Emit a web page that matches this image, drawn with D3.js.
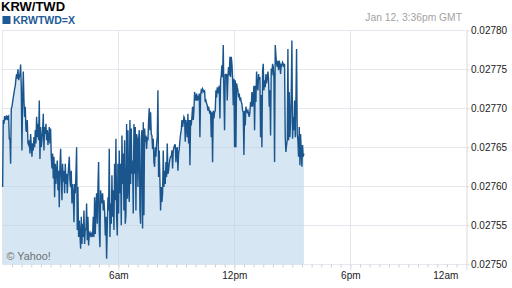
<!DOCTYPE html>
<html>
<head>
<meta charset="utf-8">
<script src="https://cdn.jsdelivr.net/npm/d3@7"></script>
<style>
body { margin: 0; background: #fff; }
svg { display: block; font-family: Arial, "Liberation Sans", sans-serif; }
</style>
</head>
<body>
<div id="chart"></div>
<script>
var title = "KRW/TWD";
var symbol = "KRWTWD=X";
var stamp = "Jan 12, 3:36pm GMT";
var credit = "\u00a9 Yahoo!";

var yTicks = [0.02750, 0.02755, 0.02760, 0.02765, 0.02770, 0.02775, 0.02780];
var xMajorMinutes = [360, 720, 1080, 1440];
var xTickLabels = ["6am", "12pm", "6pm", "12am"];

// first and last quote of the day, minutes after midnight
var firstMinute = 1, lastMinute = 936;

// quotes, in order (about one every 2 minutes)
var ratesNight = [
  0.027599,0.027685,0.027680,0.027690,0.027685,0.027688,0.027691,0.027685,0.027689,0.027690,
  0.027661,0.027661,0.027629,0.027700,0.027702,0.027708,0.027714,0.027719,0.027725,0.027729,
  0.027738,0.027744,0.027738,0.027750,0.027736,0.027740,0.027744,0.027756,0.027727,0.027646,
  0.027712,0.027747,0.027710,0.027689,0.027702,0.027672,0.027670,0.027685,0.027655,0.027653,
  0.027659,0.027642,0.027667,0.027653,0.027638,0.027655,0.027646,0.027663,0.027650,0.027672,
  0.027655,0.027689,0.027663,0.027680,0.027659,0.027710,0.027635,0.027676,0.027650,0.027659,
  0.027672,0.027693,0.027646,0.027676,0.027667,0.027680,0.027659,0.027672,0.027653,0.027663,
  0.027676,0.027655,0.027674,0.027638,0.027623,0.027642,0.027610,0.027638,0.027586,0.027629,
  0.027603,0.027620,0.027633,0.027595,0.027620,0.027573,0.027625,0.027648,0.027612,0.027582,
  0.027629,0.027606,0.027620,0.027591,0.027629,0.027603,0.027616,0.027591,0.027612,0.027625,
  0.027638,0.027608,0.027599,0.027620,0.027578,0.027603,0.027591,0.027554,0.027603,0.027591,
  0.027616,0.027650,0.027544,0.027599,0.027535,0.027556,0.027539,0.027520,0.027561,0.027526,
  0.027552,0.027535,0.027569,0.027526,0.027546,0.027544,0.027578,0.027531,0.027561,0.027524,
  0.027539,0.027541,0.027537,0.027539,0.027535,0.027538,0.027561,0.027535,0.027586,0.027539,
  0.027573,0.027591,0.027552,0.027599,0.027631,0.027544,0.027522,0.027595,0.027586,0.027578,
  0.027591,0.027569,0.027582
];
var ratesMorning = [
  0.027569,0.027537,0.027561,0.027507,0.027548,0.027586,0.027569,0.027648,0.027535,0.027578,
  0.027552,0.027614,0.027561,0.027595,0.027544,0.027629,0.027582,0.027661,0.027561,0.027537,
  0.027629,0.027565,0.027646,0.027591,0.027629,0.027550,0.027665,0.027603,0.027642,0.027569,
  0.027659,0.027552,0.027563,0.027680,0.027584,0.027672,0.027595,0.027580,0.027685,0.027603,
  0.027674,0.027616,0.027633,0.027565,0.027680,0.027616,0.027676,0.027569,0.027667,0.027661,
  0.027599,0.027659,0.027672,0.027569,0.027552,0.027661,0.027672,0.027546,0.027682,0.027563,
  0.027674,0.027657,0.027665,0.027648,0.027663,0.027659,0.027685,0.027700,0.027672,0.027695,
  0.027667,0.027665,0.027648,0.027661,0.027631,0.027625,0.027650,0.027638,0.027655,0.027663,
  0.027723,0.027612,0.027646,0.027608,0.027569,0.027599,0.027580,0.027591,0.027646,0.027599,
  0.027620,0.027603,0.027631,0.027612,0.027655,0.027616,0.027620,0.027629,0.027635,0.027638,
  0.027638,0.027646,0.027623,0.027646,0.027650,0.027653,0.027653,0.027631,0.027648,0.027650,
  0.027620,0.027642,0.027648,0.027659,0.027667,0.027672,0.027685,0.027676,0.027682,0.027689,
  0.027687,0.027657,0.027685,0.027676,0.027663,0.027693,0.027655,0.027685,0.027627,0.027685,
  0.027678,0.027689,0.027702,0.027685,0.027697,0.027721,0.027714,0.027710,0.027719,0.027710,
  0.027714,0.027712,0.027719,0.027663,0.027717,0.027723,0.027721,0.027725,0.027723,0.027721,0.027722
];
var ratesAfternoon = [
  0.027708,0.027710,0.027706,0.027704,0.027697,0.027702,0.027697,0.027693,0.027697,0.027663,
  0.027695,0.027631,0.027697,0.027687,0.027695,0.027697,0.027723,0.027714,0.027727,0.027719,
  0.027725,0.027729,0.027687,0.027736,0.027742,0.027755,0.027740,0.027781,0.027717,0.027672,
  0.027744,0.027740,0.027744,0.027710,0.027740,0.027753,0.027742,0.027766,0.027740,0.027766,
  0.027757,0.027740,0.027704,0.027738,0.027650,0.027736,0.027650,0.027732,0.027727,0.027723,
  0.027714,0.027719,0.027710,0.027714,0.027708,0.027706,0.027697,0.027695,0.027640,0.027697,
  0.027678,0.027702,0.027697,0.027695,0.027697,0.027693,0.027689,0.027695,0.027708,0.027702,
  0.027721,0.027702,0.027714,0.027729,0.027672,0.027729,0.027708,0.027747,0.027729,0.027723,
  0.027744,0.027736,0.027740,0.027663,0.027717,0.027650,0.027747,0.027757,0.027723,0.027736,
  0.027727,0.027744,0.027732,0.027738,0.027747,0.027738,0.027702,0.027723,0.027665,0.027751,
  0.027742,0.027757,0.027753,0.027740,0.027631,0.027781,0.027768,0.027757,0.027753,0.027761,
  0.027749,0.027761,0.027757,0.027744,0.027757,0.027755,0.027759,0.027757,0.027753,0.027757,
  0.027663,0.027644,0.027653,0.027659,0.027776,0.027659,0.027721,0.027663,0.027682,0.027719,
  0.027787,0.027661,0.027689,0.027672,0.027710,0.027663,0.027710,0.027776,0.027667,0.027659,
  0.027638,0.027676,0.027627,0.027667,0.027646,0.027625,0.027653,0.027638,0.027642
];

var svgWidth = 512;
var svgHeight = 288;
var plot = { left: 2.3, right: 466.3, top: 30.3, bottom: 264.3 };

var rates = ratesNight.concat(ratesMorning, ratesAfternoon);
var step = (lastMinute - firstMinute) / (rates.length - 1);
var quotes = rates.map(function (r, i) {
    return { minute: firstMinute + i * step, rate: r };
});

var x = d3.scaleLinear().domain([0, 1440]).range([plot.left, plot.right]);
var y = d3.scaleLinear().domain([0.0275, 0.0278]).range([plot.bottom, plot.top]);

var svg = d3.select("#chart")
    .append("svg")
    .attr("width", svgWidth)
    .attr("height", svgHeight);

// filled area under the line
var area = d3.area()
    .x(d => x(d.minute))
    .y0(y(0.0275))
    .y1(d => y(d.rate));

svg.append("path")
    .datum(quotes)
    .attr("d", area)
    .attr("fill", "#d6e6f2");

// grid
var grid = svg.append("g")
    .attr("stroke", "rgba(196,206,220,0.45)")
    .attr("stroke-width", 1)
    .attr("shape-rendering", "crispEdges");

grid.selectAll(".h")
    .data(yTicks)
    .enter()
    .append("line")
    .attr("x1", plot.left)
    .attr("x2", plot.right)
    .attr("y1", d => Math.round(y(d)) + 0.5)
    .attr("y2", d => Math.round(y(d)) + 0.5);

grid.selectAll(".v")
    .data([0].concat(xMajorMinutes.slice(0, 3)))
    .enter()
    .append("line")
    .attr("x1", d => Math.round(x(d)) + 0.5)
    .attr("x2", d => Math.round(x(d)) + 0.5)
    .attr("y1", plot.top)
    .attr("y2", plot.bottom);

// the quote line
var line = d3.line()
    .x(d => x(d.minute))
    .y(d => y(d.rate));

svg.append("path")
    .datum(quotes)
    .attr("d", line)
    .attr("fill", "none")
    .attr("stroke", "#1b558d")
    .attr("stroke-width", 1.4)
    .attr("stroke-linejoin", "miter");

// right value axis
var rightAxis = d3.axisRight(y)
    .tickValues(yTicks)
    .tickSize(3)
    .tickSizeOuter(0)
    .tickPadding(1.5)
    .tickFormat(d3.format(".5f"));

var yAxisG = svg.append("g")
    .attr("transform", `translate(${Math.round(plot.right) + 0.5}, 0)`)
    .call(rightAxis);
yAxisG.select(".domain").attr("stroke", "#d9d9d9");
yAxisG.selectAll(".tick line").attr("stroke", "#d9d9d9");
yAxisG.selectAll(".tick text")
    .attr("fill", "#222")
    .style("font-size", "10px")
    .style("font-family", "Arial, 'Liberation Sans', sans-serif");

// bottom time axis: half-hour minor ticks, labelled six-hour ticks
var minorAxis = d3.axisBottom(x)
    .tickValues(d3.range(30, 1440, 30))
    .tickSize(3)
    .tickSizeOuter(0)
    .tickFormat("");

var minorG = svg.append("g")
    .attr("transform", `translate(0, ${Math.round(plot.bottom) + 0.5})`)
    .call(minorAxis);
minorG.select(".domain").remove();
minorG.selectAll(".tick line").attr("stroke", "#cfcfcf");

var majorAxis = d3.axisBottom(x)
    .tickValues(xMajorMinutes)
    .tickSize(6)
    .tickSizeOuter(0)
    .tickPadding(1)
    .tickFormat((d, i) => xTickLabels[i]);

var majorG = svg.append("g")
    .attr("transform", `translate(0, ${Math.round(plot.bottom) + 0.5})`)
    .call(majorAxis);
majorG.select(".domain").remove();
majorG.selectAll(".tick line").attr("stroke", "#d6dee8");
majorG.selectAll(".tick text")
    .attr("fill", "#222")
    .style("font-size", "10px")
    .style("font-family", "Arial, 'Liberation Sans', sans-serif");
majorG.selectAll(".tick text")
    .filter((d, i) => i === xMajorMinutes.length - 1)
    .attr("text-anchor", "end")
    .attr("x", -8.5);

// header texts
svg.append("text")
    .attr("x", 1)
    .attr("y", 11)
    .attr("font-size", 13)
    .attr("font-weight", "bold")
    .attr("fill", "#000")
    .text(title);

svg.append("rect")
    .attr("x", 2.5)
    .attr("y", 16)
    .attr("width", 8)
    .attr("height", 8)
    .attr("fill", "#1d5a96");

svg.append("text")
    .attr("x", 13)
    .attr("y", 24)
    .attr("font-size", 10.5)
    .attr("font-weight", "bold")
    .attr("fill", "#1d5a96")
    .text(symbol);

svg.append("text")
    .attr("x", 462)
    .attr("y", 20.5)
    .attr("text-anchor", "end")
    .attr("font-size", 10.3)
    .attr("fill", "#a3a3a3")
    .text(stamp);

svg.append("text")
    .attr("x", 6.5)
    .attr("y", 259.5)
    .attr("font-size", 10.8)
    .attr("fill", "#6f6f6f")
    .text(credit);
</script>
</body>
</html>
